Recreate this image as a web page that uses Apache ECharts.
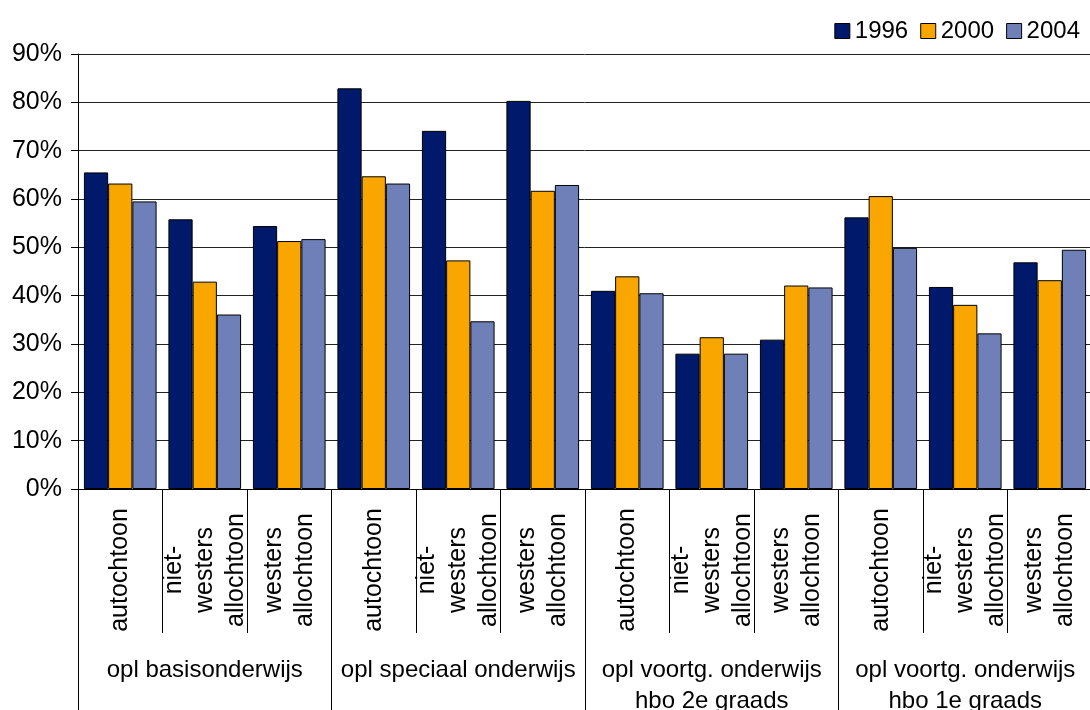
<!DOCTYPE html>
<html>
<head>
<meta charset="utf-8">
<script src="https://cdn.jsdelivr.net/npm/echarts@6/dist/echarts.min.js"></script>
<style>
  html, body { margin: 0; padding: 0; background: #fff; }
  #chart { width: 1090px; height: 710px; }
</style>
</head>
<body>
<div id="chart"></div>
<script>
const groups = [
  "opl basisonderwijs",
  "opl speciaal onderwijs",
  "opl voortg. onderwijs\nhbo 2e graads",
  "opl voortg. onderwijs\nhbo 1e graads",
];
const subLabels = ["autochtoon", "niet-\nwesters\nallochtoon", "westers\nallochtoon"];
const categories = [];
groups.forEach((g, gi) => subLabels.forEach((s, si) => categories.push(gi + "-" + si)));

const years = ["1996", "2000", "2004"];
const v1996 = [65.5, 55.8, 54.4, 82.9, 74.1, 80.3, 41.0, 28.0, 30.9, 56.2, 41.8, 46.9];
const v2000 = [63.2, 42.9, 51.3, 64.7, 47.3, 61.7, 44.0, 31.4, 42.1, 60.6, 38.1, 43.2];
const v2004 = [59.5, 36.1, 51.7, 63.2, 34.7, 62.9, 40.5, 28.0, 41.7, 49.9, 32.2, 49.5];

const colors = ["#00196A", "#F9A700", "#6F80B9"];
const font = "'Liberation Sans', Arial, sans-serif";

const chart = echarts.init(document.getElementById("chart"));

chart.setOption({
  animation: false,
  color: colors,
  textStyle: { fontFamily: font },
  legend: {
    right: 5,
    top: 14,
    itemWidth: 15,
    itemHeight: 15,
    itemGap: 12,
    icon: "rect",
    itemStyle: { borderColor: "#000", borderWidth: 1 },
    textStyle: { fontSize: 24, color: "#000", fontFamily: font },
    data: years,
  },
  grid: {
    left: 78,
    top: 54,
    width: 1014,
    bottom: 221,
    containLabel: false,
    outerBoundsMode: "none",
  },
  yAxis: {
    type: "value",
    min: 0,
    max: 90,
    interval: 10,
    axisLine: { show: true, lineStyle: { color: "#000", width: 1 } },
    axisTick: { show: true, length: 7, lineStyle: { color: "#000" } },
    axisLabel: {
      formatter: "{value}%",
      fontSize: 25,
      color: "#000",
      margin: 16,
      fontFamily: font,
    },
    splitLine: { show: true, lineStyle: { color: "#222", width: 1 } },
  },
  xAxis: [
    {
      type: "category",
      data: categories,
      position: "bottom",
      axisLine: { show: true, lineStyle: { color: "#000", width: 1 } },
      axisTick: { show: true, length: 144, interval: 0, lineStyle: { color: "#000" } },
      axisLabel: {
        interval: 0,
        rotate: 90,
        align: "center",
        verticalAlign: "middle",
        margin: 81,
        fontSize: 25,
        lineHeight: 31,
        color: "#000",
        fontFamily: font,
        formatter: (val, idx) => subLabels[idx % 3],
      },
    },
    {
      type: "category",
      data: groups,
      position: "bottom",
      axisLine: { show: false },
      axisTick: { show: true, length: 221, interval: 0, lineStyle: { color: "#000" } },
      axisLabel: {
        interval: 0,
        margin: 166,
        fontSize: 24,
        lineHeight: 31,
        color: "#000",
        fontFamily: font,
      },
    },
  ],
  series: [
    { name: "1996", data: v1996 },
    { name: "2000", data: v2000 },
    { name: "2004", data: v2004 },
  ].map((s) => ({
    name: s.name,
    type: "bar",
    xAxisIndex: 0,
    data: s.data,
    barGap: "0%",
    barCategoryGap: "14%",
    itemStyle: { borderColor: "#000", borderWidth: 1 },
  })),
});
</script>
</body>
</html>
